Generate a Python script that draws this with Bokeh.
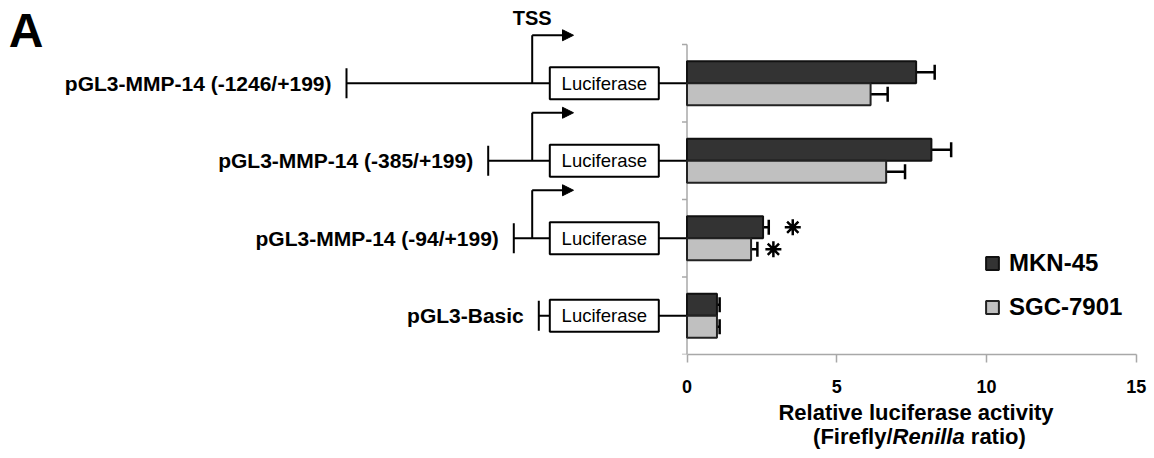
from bokeh.plotting import figure
from bokeh.layouts import column
from bokeh.models import (Range1d, LinearAxis, FixedTicker, ColumnDataSource, Whisker,
                          TeeHead, Arrow, NormalHead)
from bokeh.core.properties import value
from bokeh.embed import file_html
from bokeh.resources import INLINE

# ---------------- data ----------------
constructs = ["pGL3-MMP-14 (-1246/+199)", "pGL3-MMP-14 (-385/+199)",
              "pGL3-MMP-14 (-94/+199)", "pGL3-Basic"]
mkn45 = [7.65, 8.16, 2.54, 1.0]
mkn45_err = [0.62, 0.66, 0.19, 0.09]
sgc7901 = [6.13, 6.65, 2.14, 1.0]
sgc7901_err = [0.57, 0.63, 0.21, 0.09]
mkn45_sig = [False, False, True, False]
sgc7901_sig = [False, False, True, False]
has_tss = [True, True, True, False]
series_names = ["MKN-45", "SGC-7901"]
x_ticks = [0, 5, 10, 15]
x_title_1 = "Relative luciferase activity"
x_title_2 = ["(Firefly/", "Renilla", "ratio)"]

# ---------------- layout (pixel geometry of the reference) ----------------
W = 1154
H_MAIN, H_TITLE = 398, 60
X0, SX = 686.5, 29.95      # pixel of x=0, pixels per unit
Y0, SY = 354.0, 77.5       # pixel of y=0, pixels per category
def dx(px): return (px - X0) / SX
def dy(py): return (Y0 - py) / SY
def wx(px): return px / SX
def wy(py): return py / SY

FONT = value("Liberation Sans")
DARK, LIGHT, GRAY = "#333333", "#c0c0c0", "#a8a8a8"
n = len(constructs)
yc = [n - i - 0.5 for i in range(n)]
bar_h = wy(22)
off = bar_h / 2

promoter_start_px = [346, 487.7, 513.3, 538.3]
box_l, box_r, box_h = 549.3, 658.3, 32
tss_px, arrow_end_px, arrow_rise = 531.7, 573, 48

xr = Range1d(dx(0), dx(W))
p = figure(width=W, height=H_MAIN, output_backend="svg", toolbar_location=None,
           x_range=xr, y_range=Range1d(0, dy(0)),
           x_axis_type=None, y_axis_type=None,
           min_border_left=0, min_border_right=0, min_border_top=0,
           min_border_bottom=int(H_MAIN - Y0))
p.outline_line_color = None
p.xgrid.visible = False
p.ygrid.visible = False

# x axis (below)
xa = LinearAxis(ticker=FixedTicker(ticks=x_ticks), bounds=(0, 15))
xa.axis_line_color = GRAY
xa.axis_line_width = 1.5
xa.major_tick_line_color = GRAY
xa.major_tick_line_width = 1.5
xa.major_tick_out = 8
xa.major_tick_in = 0
xa.minor_tick_out = 0
xa.minor_tick_in = 0
xa.major_label_text_font = "Liberation Sans"
xa.major_label_text_font_style = "bold"
xa.major_label_text_font_size = "18px"
xa.major_label_text_color = "black"
xa.major_label_standoff = 17
p.add_layout(xa, "below")

# y axis line + ticks (at x = 0, inside the frame)
p.segment(x0=[0], y0=[0], x1=[0], y1=[n], line_color=GRAY, line_width=1.5)
p.segment(x0=[-wx(5)] * (n + 1), y0=list(range(n + 1)), x1=[0] * (n + 1),
          y1=list(range(n + 1)), line_color=GRAY, line_width=1.5)

# ---------------- construct schematics ----------------
starts = [dx(v) for v in promoter_start_px]
p.segment(x0=starts, y0=yc, x1=[0] * n, y1=yc, line_color="black", line_width=2)
p.segment(x0=starts, y0=[y - wy(15) for y in yc], x1=starts, y1=[y + wy(15) for y in yc],
          line_color="black", line_width=2)
tss_y = [y for y, t in zip(yc, has_tss) if t]
p.segment(x0=[dx(tss_px)] * len(tss_y), y0=tss_y, x1=[dx(tss_px)] * len(tss_y),
          y1=[y + wy(arrow_rise) for y in tss_y], line_color="black", line_width=2)
for y in tss_y:
    p.add_layout(Arrow(x_start=dx(tss_px), y_start=y + wy(arrow_rise),
                       x_end=dx(arrow_end_px), y_end=y + wy(arrow_rise),
                       line_color="black", line_width=2,
                       end=NormalHead(size=11, fill_color="black", line_color="black", line_width=1)))
p.quad(left=[dx(box_l)] * n, right=[dx(box_r)] * n,
       bottom=[y - wy(box_h / 2) for y in yc], top=[y + wy(box_h / 2) for y in yc],
       fill_color="white", line_color="black", line_width=2)
p.text(x=[dx((box_l + box_r) / 2)] * n, y=yc, text=["Luciferase"] * n,
       text_align="center", text_baseline="middle", text_font=FONT,
       text_font_size="18.5px", text_color="black")
p.text(x=starts, y=yc, text=constructs, x_offset=-15, text_align="right",
       text_baseline="middle", text_font=FONT, text_font_style="bold",
       text_font_size="21px", text_color="black")
p.text(x=[dx(tss_px)], y=[dy(17.5)], text=["TSS"], text_align="center",
       text_baseline="middle", text_font=FONT, text_font_style="bold",
       text_font_size="20px", text_color="black")
p.text(x=[dx(25.5)], y=[dy(30)], text=["A"], text_align="center",
       text_baseline="middle", text_font=FONT, text_font_style="bold",
       text_font_size="48px", text_color="black")

# ---------------- bars ----------------
y_mkn = [y + off for y in yc]
y_sgc = [y - off for y in yc]
p.hbar(y=y_mkn, left=0, right=mkn45, height=bar_h, fill_color=DARK,
       line_color="#111111", line_width=2, legend_label=series_names[0])
p.hbar(y=y_sgc, left=0, right=sgc7901, height=bar_h, fill_color=LIGHT,
       line_color="#222222", line_width=2, legend_label=series_names[1])

for ys, vals, errs in ((y_mkn, mkn45, mkn45_err), (y_sgc, sgc7901, sgc7901_err)):
    src = ColumnDataSource(dict(base=ys, lower=[v - e for v, e in zip(vals, errs)],
                                upper=[v + e for v, e in zip(vals, errs)]))
    p.add_layout(Whisker(source=src, base="base", lower="lower", upper="upper",
                         dimension="width", line_color="black", line_width=2.5,
                         upper_head=TeeHead(size=15, line_color="black", line_width=2.5),
                         lower_head=TeeHead(size=15, line_color="black", line_width=2.5)))

# significance asterisks
sx, sy = [], []
for ys, vals, errs, sig, gap in ((y_mkn, mkn45, mkn45_err, mkn45_sig, 24),
                                 (y_sgc, sgc7901, sgc7901_err, sgc7901_sig, 16)):
    for y, v, e, s in zip(ys, vals, errs, sig):
        if s:
            sx.append(v + e + wx(gap))
            sy.append(y)
p.scatter(x=sx, y=sy, marker="asterisk", size=16, line_color="black", line_width=2.5)

# ---------------- legend ----------------
lg = p.legend[0]
lg.location = (984, 33)
lg.label_text_font = "Liberation Sans"
lg.label_text_font_style = "bold"
lg.label_text_font_size = "24px"
lg.label_text_color = "black"
lg.glyph_width = 16
lg.glyph_height = 16
lg.label_height = 28
lg.label_standoff = 9
lg.spacing = 16
lg.padding = 0
lg.margin = 0
lg.border_line_alpha = 0
lg.background_fill_alpha = 0

# ---------------- x-axis title (strip below the axis) ----------------
t = figure(width=W, height=H_TITLE, output_backend="svg", toolbar_location=None,
           x_range=xr, y_range=Range1d(H_MAIN + H_TITLE, H_MAIN),
           x_axis_type=None, y_axis_type=None,
           min_border_left=0, min_border_right=0, min_border_top=0, min_border_bottom=0)
t.outline_line_color = None
t.xgrid.visible = False
t.ygrid.visible = False
TS = 22
t.text(x=[dx(915.5)], y=[412], text=[x_title_1], text_align="center",
       text_baseline="middle", text_font=FONT, text_font_style="bold",
       text_font_size=f"{TS}px", text_color="black")
split_px = 812.6 + 3.612 * TS          # end of "(Firefly/"
ren_w = 3.279 * TS + 0.278 * TS        # "Renilla" + space
for txt, anchor, align, style in ((x_title_2[0], split_px, "right", "bold"),
                                  (x_title_2[1], split_px, "left", "bold italic"),
                                  (x_title_2[2], split_px + ren_w, "left", "bold")):
    t.text(x=[dx(anchor)], y=[436], text=[txt], text_align=align,
           text_baseline="middle", text_font=FONT, text_font_style=style,
           text_font_size=f"{TS}px", text_color="black")

layout = column(p, t, spacing=0)
open("out.html", "w").write(file_html(layout, INLINE))
